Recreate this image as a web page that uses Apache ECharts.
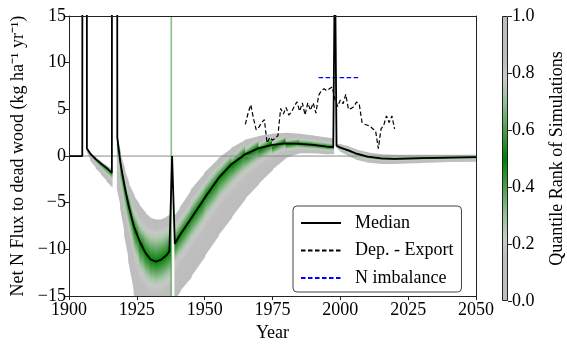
<!DOCTYPE html>
<html><head><meta charset="utf-8">
<script src="https://cdn.jsdelivr.net/npm/echarts@6/dist/echarts.min.js"></script>
<style>html,body{margin:0;padding:0;background:#fff}#c{width:567px;height:347px}</style>
</head><body><div id="c"></div>
<script>
// ---------- data ----------
const xTickValues = [1900, 1925, 1950, 1975, 2000, 2025, 2050];
const yTickValues = [-15, -10, -5, 0, 5, 10, 15];
const cbTickValues = [0, 0.2, 0.4, 0.6, 0.8, 1.0];

// Median simulated flux (spikes clipped by the axis)
const medianYears = [1900,1904.9,1905,1906.5,1906.6,1908,1910,1912,1914,1915.8,1915.9,1917.7,1917.8,1919,1920.5,1922,1924,1926,1928,1930,1932,1934,1936,1937,1938,1939,1941,1945,1950,1955,1960,1965,1970,1975,1980,1985,1990,1995,1997.4,1998,1998.6,2000,2003,2006,2010,2015,2020,2030,2040,2050];
const medianValues = [0,0,80,80,0.8,0.2,-0.35,-0.85,-1.3,-1.8,80,80,2.0,-0.8,-3.25,-5.35,-7.6,-9.1,-10.3,-11.05,-11.3,-11.1,-10.6,-10.2,0.0,-9.4,-8.4,-6.7,-4.5,-2.4,-0.85,0.2,0.85,1.2,1.35,1.3,1.2,1.0,0.95,22,1.1,0.9,0.6,0.25,-0.05,-0.25,-0.3,-0.22,-0.16,-0.12];

// Deposition - Export
const depYears = [1965,1966,1967,1968,1969,1970,1971,1972,1973,1974,1975,1976,1977,1978,1979,1980,1981,1982,1983,1984,1985,1986,1987,1988,1989,1990,1991,1992,1993,1994,1995,1996,1997,1998,1999,2000,2001,2002,2003,2004,2005,2006,2007,2008,2009,2010,2011,2012,2013,2014,2015,2016,2017,2018,2019,2020];
const depValues = [3.4,4.6,5.5,4.0,2.8,3.1,3.6,3.9,1.4,2.0,1.7,1.9,2.2,5.1,4.5,5.2,4.4,4.7,5.3,5.8,4.8,5.7,4.4,5.7,4.9,5.7,4.6,6.5,7.0,7.2,7.0,7.2,7.4,6.1,5.3,6.0,5.6,6.6,5.0,5.1,5.3,5.8,5.5,3.6,3.4,3.3,3.2,2.9,2.7,0.8,2.9,3.3,4.3,3.6,4.3,2.9];

// N imbalance
const imbYears = [1992, 2007];
const imbValues = [8.4, 8.4];

// Simulation spread (quantile levels), segments separated by null
const bandYears = [1906.6,1908,1910,1912,1914,1915.9, null,
  1917.8,1919,1920.5,1922,1924,1926,1928,1930,1932,1934,1936,1937.5, null,
  1939,1941,1945,1950,1955,1960,1965,1970,1975,1980,1985,1990,1995,1997.5, null,
  1998.7,2000,2003,2006,2010,2015,2020,2030,2040,2050];
const bandHi  = [0.9,0.4,-0.15,-0.6,-1.0,-1.4, null,
  2.2,0.4,-1.3,-2.8,-4.2,-5.2,-6.0,-6.6,-6.8,-6.8,-6.5,-6.2, null,
  -6.4,-5.5,-3.6,-1.8,-0.3,0.9,1.75,2.15,2.4,2.5,2.4,2.2,2.0,1.9, null,
  1.3,1.3,1.05,0.7,0.4,0.2,0.15,0.15,0.15,0.15];
const bandQ80 = [0.85,0.3,-0.3,-0.75,-1.2,-1.6, null,
  2.1,-0.3,-2.3,-4.0,-5.8,-7.0,-7.7,-8.1,-8.2,-8.1,-7.8,-7.4, null,
  -7.6,-6.9,-5.0,-2.9,-1.1,0.2,1.1,1.6,1.8,1.85,1.8,1.65,1.45,1.4, null,
  1.2,1.05,0.8,0.45,0.12,-0.08,-0.12,-0.05,0.0,0.02];
const bandMed = [0.8,0.2,-0.35,-0.85,-1.3,-1.8, null,
  2.0,-0.8,-3.25,-5.35,-7.6,-9.1,-10.3,-11.05,-11.3,-11.1,-10.6,-10.0, null,
  -9.4,-8.4,-6.7,-4.5,-2.4,-0.85,0.2,0.85,1.2,1.35,1.3,1.2,1.0,0.95, null,
  1.1,0.9,0.6,0.25,-0.05,-0.25,-0.3,-0.22,-0.16,-0.12];
const bandQ20 = [0.6,-0.1,-0.8,-1.4,-2.0,-2.5, null,
  0.5,-2.8,-5.7,-7.6,-10.2,-12.2,-13.3,-13.8,-14.0,-13.9,-13.5,-13.1, null,
  -11.5,-10.8,-9.2,-7.0,-4.9,-3.2,-1.7,-0.6,0.3,0.7,0.8,0.75,0.6,0.55, null,
  1.0,0.7,0.35,0.0,-0.3,-0.48,-0.5,-0.42,-0.36,-0.3];
const bandLo  = [0.5,-0.5,-1.3,-2.0,-2.7,-3.4, null,
  -3.5,-5.6,-8.5,-11.3,-14.8,-16.5,-17.0,-17.5,-17.5,-17.0,-16.5,-16.0, null,
  -15.5,-14.5,-13.0,-10.8,-8.6,-6.6,-4.6,-3.0,-1.5,-0.2,0.3,0.3,0.2,0.2, null,
  0.9,0.5,0.0,-0.4,-0.7,-0.85,-0.85,-0.75,-0.65,-0.6];
const greenLineYear = 1937.7;

// colour map: quantile rank -> colour
const cmapRanks  = [0, 0.16, 0.22, 0.30, 0.40, 0.50, 0.60, 0.70, 0.78, 0.84, 1.0];
const cmapColors = ['#bdbdbd','#bebebe','#c9cdc9','#97bf97','#4e9d4e','#008000','#4e9d4e','#97bf97','#c9cdc9','#bebebe','#bdbdbd'];

// ---------- helpers ----------
function hex2rgb(h){return [parseInt(h.substr(1,2),16),parseInt(h.substr(3,2),16),parseInt(h.substr(5,2),16)];}
const cmapRGB = cmapColors.map(hex2rgb);
function cmap(r){
  for (let k=0;k<cmapRanks.length-1;k++){
    if (r<=cmapRanks[k+1]){
      const f=(r-cmapRanks[k])/(cmapRanks[k+1]-cmapRanks[k]);
      const a=cmapRGB[k], b=cmapRGB[k+1];
      return 'rgb('+a.map((v,j)=>Math.round(v+(b[j]-v)*f)).join(',')+')';
    }
  }
  return cmapColors[cmapColors.length-1];
}
const FONT = 'Liberation Serif';
const levelArrays = [bandHi, bandQ80, bandMed, bandQ20, bandLo];
const levelRanks = [1, 0.8, 0.5, 0.2, 0];
const sampleRanks = [];
for (let k=20;k>=0;k--) sampleRanks.push(k/20);

const bandData = [];
for (let i=0;i<bandYears.length-1;i++){
  if (bandYears[i]!=null && bandYears[i+1]!=null) bandData.push([bandYears[i], bandMed[i], i]);
}

function renderBand(params, api){
  const i = api.value(2);
  const pa = levelArrays.map(a=>api.coord([bandYears[i], a[i]]));
  const pb = levelArrays.map(a=>api.coord([bandYears[i+1], a[i+1]]));
  const xa = pa[0][0]-0.45, xb = pb[0][0]+0.45;
  const pts = [[xa,pa[0][1]],[xb,pb[0][1]],[xb,pb[4][1]],[xa,pa[4][1]]];
  const xm = (pa[0][0]+pb[0][0])/2;
  const ym = pa.map((p,j)=>(p[1]+pb[j][1])/2);
  const s = ((pb[0][1]+pb[4][1])-(pa[0][1]+pa[4][1]))/2/(pb[0][0]-pa[0][0]);
  const h = Math.max(ym[4]-ym[0], 0.5);
  const d = h/(1+s*s);
  const tl = ym.map(y=>Math.min(1,Math.max(0,(y-ym[0])/h)));
  const stops = [];
  let last = 0;
  sampleRanks.forEach(r=>{
    let t = 1;
    for (let j=0;j<4;j++){
      if (r<=levelRanks[j] && r>=levelRanks[j+1]){
        const f=(levelRanks[j]-r)/(levelRanks[j]-levelRanks[j+1]);
        t = tl[j]+(tl[j+1]-tl[j])*f; break;
      }
    }
    t = Math.max(last, Math.min(1,t)); last = t;
    stops.push({offset:t, color:cmap(r)});
  });
  return {
    type:'polygon',
    shape:{points:pts},
    style:{fill:new echarts.graphic.LinearGradient(xm, ym[0], xm - s*d, ym[0]+d, stops, true), stroke:null}
  };
}

const chart = echarts.init(document.getElementById('c'), null, {renderer:'canvas'});
const axisText = {fontFamily:FONT, fontSize:18, color:'#000'};
const minusFmt = v => String(v).replace('-', '\u2212');

chart.setOption({
  animation:false,
  backgroundColor:'#fff',
  textStyle:{fontFamily:FONT},
  grid:[
    {left:69, right:91, top:16, bottom:46},
    {left:502, width:14, top:16, height:285}
  ],
  xAxis:[
    {gridIndex:0, type:'value', min:1900, max:2050, interval:25, z:10,
     name:'Year', nameLocation:'middle', nameGap:27, nameTextStyle:axisText,
     axisLine:{show:true, onZero:false, lineStyle:{color:'#222', width:1}},
     axisTick:{show:true, inside:false, length:4, lineStyle:{color:'#222'}},
     axisLabel:Object.assign({margin:5, formatter:v=>String(v)}, axisText), splitLine:{show:false}},
    {gridIndex:0, type:'value', min:1900, max:2050, position:'top', z:10,
     axisLine:{show:true, onZero:false, lineStyle:{color:'#222', width:1}},
     axisTick:{show:false}, axisLabel:{show:false}, splitLine:{show:false}},
    {gridIndex:1, type:'category', data:['q'], show:false}
  ],
  yAxis:[
    {gridIndex:0, type:'value', min:-15, max:15, interval:5, z:10,
     name:'Net N Flux to dead wood (kg ha\u207B\u00B9 yr\u207B\u00B9)', nameLocation:'middle', nameGap:42, nameRotate:90,
     nameTextStyle:axisText,
     axisLine:{show:true, onZero:false, lineStyle:{color:'#222', width:1}},
     axisTick:{show:true, inside:false, length:4, lineStyle:{color:'#222'}},
     axisLabel:Object.assign({margin:3, formatter:minusFmt}, axisText), splitLine:{show:false}},
    {gridIndex:0, type:'value', min:-15, max:15, position:'right', z:10,
     axisLine:{show:true, onZero:false, lineStyle:{color:'#222', width:1}},
     axisTick:{show:false}, axisLabel:{show:false}, splitLine:{show:false}},
    {gridIndex:1, type:'value', min:0, max:1, interval:0.2, position:'right',
     name:'Quantile Rank of Simulations', nameLocation:'middle', nameGap:40, nameRotate:90,
     nameTextStyle:axisText,
     axisLine:{show:false}, axisTick:{show:true, inside:false, length:4, lineStyle:{color:'#222'}},
     axisLabel:Object.assign({margin:4, formatter:v=>v.toFixed(1)}, axisText), splitLine:{show:false}}
  ],
  legend:{
    data:['Median','Dep. - Export','N imbalance'],
    orient:'vertical', left:293, top:206,
    padding:[8,8,5,7], itemGap:9.5, itemWidth:40, itemHeight:14,
    itemStyle:{opacity:0},
    borderColor:'#444', borderWidth:1, borderRadius:4, backgroundColor:'#fff',
    textStyle:Object.assign({padding:[0,0,0,9]}, axisText),
    z:20
  },
  series:[
    {type:'custom', name:'band', xAxisIndex:0, yAxisIndex:0, clip:true, silent:true,
     renderItem:renderBand, encode:{x:0, y:1}, data:bandData, z:1},
    {type:'line', name:'greenline', xAxisIndex:0, yAxisIndex:0, symbol:'none', silent:true,
     data:[[greenLineYear,-15],[greenLineYear,15]],
     lineStyle:{color:'rgba(40,140,40,0.55)', width:1.6}, z:2},
    {type:'line', name:'zero', xAxisIndex:0, yAxisIndex:0, symbol:'none', silent:true,
     data:[[1900,0],[2050,0]], lineStyle:{color:'#8a8a8a', width:1}, z:3},
    {type:'line', name:'Median', xAxisIndex:0, yAxisIndex:0, symbol:'none', clip:true,
     data:medianYears.map((y,i)=>[y, medianValues[i]]),
     lineStyle:{color:'#000', width:1.8}, itemStyle:{color:'#000'}, z:5},
    {type:'line', name:'Dep. - Export', xAxisIndex:0, yAxisIndex:0, symbol:'none',
     data:depYears.map((y,i)=>[y, depValues[i]]),
     lineStyle:{color:'#000', width:1.2, type:[4.5,2.5]}, itemStyle:{color:'#000'}, z:4},
    {type:'line', name:'N imbalance', xAxisIndex:0, yAxisIndex:0, symbol:'none',
     data:imbYears.map((y,i)=>[y, imbValues[i]]),
     lineStyle:{color:'#0000ff', width:1.2, type:[4.5,2.5]}, itemStyle:{color:'#0000ff'}, z:4},
    {type:'bar', name:'colorbar', xAxisIndex:2, yAxisIndex:2, barWidth:'100%', silent:true,
     data:[1],
     itemStyle:{borderColor:'#222', borderWidth:1,
       color:new echarts.graphic.LinearGradient(0,1,0,0, cmapRanks.map((r,k)=>({offset:r, color:cmapColors[k]})))}}
  ]
});
</script></body></html>
